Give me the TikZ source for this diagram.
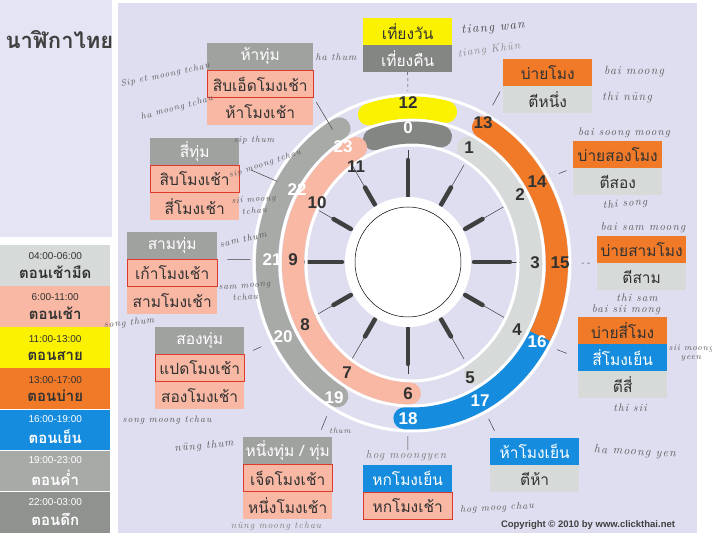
\documentclass[tikz,border=0pt]{standalone}
\usepackage{fontspec}
\newfontfamily\thai[Script=Thai]{Loma}
\newfontfamily\arial{Liberation Sans}
\newfontfamily\hw[LetterSpace=10]{Latin Modern Roman}
\usepackage{tikz}
\usetikzlibrary{positioning}

\definecolor{lav}{RGB}{222,222,240}
\definecolor{lavlight}{RGB}{228,228,244}
\definecolor{clyellow}{RGB}{250,242,0}
\definecolor{clorange}{RGB}{240,122,40}
\definecolor{clblue}{RGB}{22,140,222}
\definecolor{clsalmon}{RGB}{248,184,164}
\definecolor{clred}{RGB}{222,58,44}
\definecolor{cllight}{RGB}{214,218,216}
\definecolor{clgrey}{RGB}{160,162,160}
\definecolor{clring}{RGB}{168,170,168}
\definecolor{cldark}{RGB}{132,134,132}
\definecolor{cltick}{RGB}{62,64,64}
\definecolor{cltext}{RGB}{50,50,50}

\newcommand\legtime[1]{{\arial\fontsize{10}{12}\selectfont #1}}
\newcommand\legthai[1]{{\thai\bfseries\fontsize{15}{18}\selectfont #1}}

\tikzset{
  box/.style={minimum width=89pt,minimum height=26.7pt,inner sep=0pt,
    font=\thai\fontsize{15.5}{15.5}\selectfont,text=cltext},
  gbox/.style={box,fill=clgrey,text=white},
  rbox/.style={box,fill=clsalmon,draw=clred,line width=1.2pt},
  sbox/.style={box,fill=clsalmon},
  obox/.style={box,fill=clorange},
  bbox/.style={box,fill=clblue,text=white},
  lbox/.style={box,fill=cllight},
  legend/.style={minimum width=110pt,minimum height=40.7pt,inner sep=0pt,align=center,text=cltext},
  num/.style={font=\arial\bfseries\fontsize{17}{17}\selectfont,text=cltext,inner sep=1pt},
  wnum/.style={num,text=white},
  lead/.style={black!75,line width=0.5pt},
  hand/.style={font=\hw\itshape\fontsize{#1}{#1}\selectfont,text=black!65,inner sep=0pt,align=center},
  hand/.default=10,
  band/.style={line width=22pt},
  ring/.style={white,line width=3pt},
  tick/.style={cltick,line width=4.5pt,line cap=round},
}

\begin{document}
\begin{tikzpicture}[x=1pt,y=1pt]
\useasboundingbox (0,0) rectangle (712,541);
\fill[white] (0,0) rectangle (712,541);
\fill[lav] (118,8) rectangle (697,538);
\fill[lavlight] (0,304) rectangle (112,541);

\node[font=\thai\bfseries\fontsize{22}{22}\selectfont,text=black!75,anchor=west] (title) at (2,501) {นาฬิกาไทย};

% legend
\node[legend,fill=cllight,anchor=north west] (l1) at (0,296) {\legtime{04:00-06:00}\\[6pt]\legthai{ตอนเช้ามืด}};
\node[legend,fill=clsalmon,below=0pt of l1] (l2) {\legtime{6:00-11:00}\\[6pt]\legthai{ตอนเช้า}};
\node[legend,fill=clyellow,below=0pt of l2] (l3) {\legtime{11:00-13:00}\\[6pt]\legthai{ตอนสาย}};
\node[legend,fill=clorange,below=0pt of l3] (l4) {\legtime{13:00-17:00}\\[6pt]\legthai{ตอนบ่าย}};
\node[legend,fill=clblue,text=white,below=0pt of l4] (l5) {\legtime{16:00-19:00}\\[6pt]\legthai{ตอนเย็น}};
\node[legend,fill=clring,text=white,below=0pt of l5] (l6) {\legtime{19:00-23:00}\\[6pt]\legthai{ตอนค่ำ}};
\node[legend,fill=cldark!90,text=white,below=0pt of l6] (l7) {\legtime{22:00-03:00}\\[6pt]\legthai{ตอนดึก}};

% clock
\coordinate (R) at (412,278);
\coordinate (D) at (408,279);
\foreach \h/\l in {0/36,1/20,2/20,3/36,4/20,5/20,6/36,7/20,8/20,9/36,10/20,11/20}{
  \draw[cltick,line width=0.5pt] (D) ++(90-30*\h:66) -- ++(90-30*\h:46);
  \draw[tick] (D) ++(90-30*\h:66) -- ++(90-30*\h:\l);
}
\fill[white] (D) circle[x radius=63,y radius=65];
\draw[black,line width=0.5pt] (D) circle[x radius=53,y radius=55];

\foreach \rx/\ry in {106/118,132/143,158/168}
  \draw[ring] (R) circle[x radius=\rx,y radius=\ry];

% inner ring
\draw[band,cldark,line cap=round] (R) ++(108.6:119 and 130.5) arc[start angle=108.6,end angle=75.9,x radius=119,y radius=130.5];
\draw[band,cllight,line cap=round] (R) ++(62:119 and 130.5) arc[start angle=62,end angle=-58,x radius=119,y radius=130.5];
\draw[band,clsalmon,line cap=round] (R) ++(-91:119 and 130.5) arc[start angle=-91,end angle=-242,x radius=119,y radius=130.5];
% outer ring
\draw[band,clyellow,line cap=round] (R) ++(107.3:145 and 155.5) arc[start angle=107.3,end angle=76.4,x radius=145,y radius=155.5];
\draw[band,clblue,line cap=round] (R) ++(-20:145 and 155.5) arc[start angle=-20,end angle=-93,x radius=145,y radius=155.5];
\draw[band,clorange,line cap=round] (R) ++(60.7:145 and 155.5) arc[start angle=60.7,end angle=0,x radius=145,y radius=155.5];
\draw[band,clorange] (R) ++(10:145 and 155.5) arc[start angle=10,end angle=-28,x radius=145,y radius=155.5];
\draw[band,clring,line cap=round] (R) ++(-121:145 and 155.5) arc[start angle=-121,end angle=-240,x radius=145,y radius=155.5];

\node[wnum] (n0) at (408,413) {0};
\foreach \h/\x/\y in {1/469/393,2/520/346,3/535/278,4/517/211,5/470/163,6/408/147,
  7/347/168,8/305/216,9/293/281,10/317/338,11/356/374,12/408/438,13/483/418,14/537/359,15/560/278}
  \node[num] (n\h) at (\x,\y) {\h};
\foreach \h/\x/\y in {16/537/199,17/480/140,18/408/122,19/334/143,20/283/204,21/272/281,22/297/351,23/343/394}
  \node[wnum] (n\h) at (\x,\y) {\h};

% boxes
\node[box,fill=clyellow,anchor=north west] (g12a) at (363,523) {เที่ยงวัน};
\node[box,fill=cldark,text=white,below=0pt of g12a] (g12b) {เที่ยงคืน};
\node[gbox,minimum width=106pt,anchor=north west] (g23a) at (207,498) {ห้าทุ่ม};
\node[rbox,minimum width=106pt,below=0pt of g23a] (g23b) {สิบเอ็ดโมงเช้า};
\node[sbox,minimum width=106pt,below=0pt of g23b] (g23c) {ห้าโมงเช้า};
\node[gbox,anchor=north west] (g22a) at (150,403) {สี่ทุ่ม};
\node[rbox,below=0pt of g22a] (g22b) {สิบโมงเช้า};
\node[sbox,below=0pt of g22b] (g22c) {สี่โมงเช้า};
\node[gbox,minimum width=90pt,anchor=north west] (g21a) at (127,309) {สามทุ่ม};
\node[rbox,minimum width=90pt,below=0pt of g21a] (g21b) {เก้าโมงเช้า};
\node[sbox,minimum width=90pt,below=0pt of g21b] (g21c) {สามโมงเช้า};
\node[gbox,anchor=north west] (g20a) at (155,214) {สองทุ่ม};
\node[rbox,below=0pt of g20a] (g20b) {แปดโมงเช้า};
\node[sbox,below=0pt of g20b] (g20c) {สองโมงเช้า};
\node[gbox,anchor=north west] (g19a) at (243,104) {หนึ่งทุ่ม / ทุ่ม};
\node[rbox,below=0pt of g19a] (g19b) {เจ็ดโมงเช้า};
\node[sbox,below=0pt of g19b] (g19c) {หนึ่งโมงเช้า};
\node[bbox,anchor=north west] (g18a) at (363,76) {หกโมงเย็น};
\node[rbox,below=0pt of g18a] (g18b) {หกโมงเช้า};
\node[bbox,anchor=north west] (g17a) at (490,103) {ห้าโมงเย็น};
\node[lbox,below=0pt of g17a] (g17b) {ตีห้า};
\node[obox,anchor=north west] (g16a) at (578,224) {บ่ายสี่โมง};
\node[bbox,below=0pt of g16a] (g16b) {สี่โมงเย็น};
\node[lbox,below=0pt of g16b] (g16c) {ตีสี่};
\node[obox,anchor=north west] (g15a) at (597,305) {บ่ายสามโมง};
\node[lbox,below=0pt of g15a] (g15b) {ตีสาม};
\node[obox,anchor=north west] (g14a) at (573,400) {บ่ายสองโมง};
\node[lbox,below=0pt of g14a] (g14b) {ตีสอง};
\node[obox,anchor=north west] (g13a) at (503,482) {บ่ายโมง};
\node[lbox,below=0pt of g13a] (g13b) {ตีหนึ่ง};

% leaders
\draw[lead,dashed,shorten >=5pt] (g12b.south) -- (n12.north);
\draw[lead,shorten <=6pt,shorten >=12pt] (g13a.south west) -- (n13);
\draw[lead,shorten <=7pt,shorten >=12pt] (g14a.south west) -- (n14);
\draw[lead,dashed,shorten <=7pt,shorten >=11pt] (g15a.south west) -- (n15);
\draw[lead,shorten <=12pt,shorten >=10pt] (g16b.west) -- (n16);
\draw[lead,shorten <=8pt,shorten >=12pt] ([xshift=8pt]g17a.north west) -- (n17);
\draw[lead,shorten <=15pt,shorten >=10pt] (g18a.north) -- (n18);
\draw[lead,shorten <=8pt,shorten >=12pt] ([xshift=-14pt]g19a.north east) -- (n19);
\draw[lead,shorten <=9pt,shorten >=12pt] (g20b.north east) -- (n20);
\draw[lead,shorten <=10pt,shorten >=11pt] (g21a.south east) -- (n21);
\draw[lead,shorten <=12pt,shorten >=10pt] (g22b.north east) -- (n22);
\draw[lead,shorten <=5pt,shorten >=12pt] (g23b.south east) -- (n23);

% handwriting
\node[hand=13,text=black!75,rotate=5] (w1) at (493,513) {tiang wan};
\node[hand=11,text=black!45,rotate=8] (w2) at (489,491) {tiang Khün};
\node[hand=10] (w3) at (336,484) {ha thum};
\node[hand=9,rotate=12] (w4) at (165,466) {Sip et moong tchau};
\node[hand=9,rotate=15] (w5) at (177,433) {ha moong tchau};
\node[hand=12] (w6) at (634,469) {bai moong};
\node[hand=12] (w7) at (627,443) {thi nüng};
\node[hand=11] (w8) at (624,408) {bai soong moong};
\node[hand=11,rotate=5] (w9) at (625,337) {thi song};
\node[hand=11.5] (w10) at (643,313) {bai sam moong};
\node[hand=11] (w11) at (637,243) {thi sam};
\node[hand=11] (w12) at (626,231) {bai sii mong};
\node[hand=8.5] (w13) at (691,188) {sii moong\\yeen};
\node[hand=11] (w14) at (630,133) {thi sii};
\node[hand=12,rotate=-3] (w15) at (635,89) {ha moong yen};
\node[hand=10,rotate=3] (w16) at (497,33) {hog moog chau};
\node[hand=11.5,text=black!55] (w17) at (406,85) {hog moongyen};
\node[hand=9.5,text=black!50] (w18) at (276,15) {nüng moong tchau};
\node[hand=8] (w19) at (340,110) {thum};
\node[hand=11,rotate=5] (w20) at (204,95) {nüng thum};
\node[hand=9.5] (w21) at (167,121) {song moong tchau};
\node[hand=9.5,rotate=5] (w22) at (129,218) {song thum};
\node[hand=9,rotate=4] (w23) at (245,249) {sam moong\\[3pt]tchau};
\node[hand=9.5,rotate=12] (w24) at (243,302) {sam thum};
\node[hand=8.5,rotate=4] (w25) at (254,336) {sii moong\\[3pt]tchau};
\node[hand=8.5,rotate=18] (w26) at (265,377) {sip moong tchau};
\node[hand=9] (w27) at (254,401) {sip thum};

\node[font=\arial\bfseries\fontsize{9.5}{10}\selectfont,text=black!75] (copy) at (588,16) {Copyright © 2010 by www.clickthai.net};
\end{tikzpicture}
\end{document}
